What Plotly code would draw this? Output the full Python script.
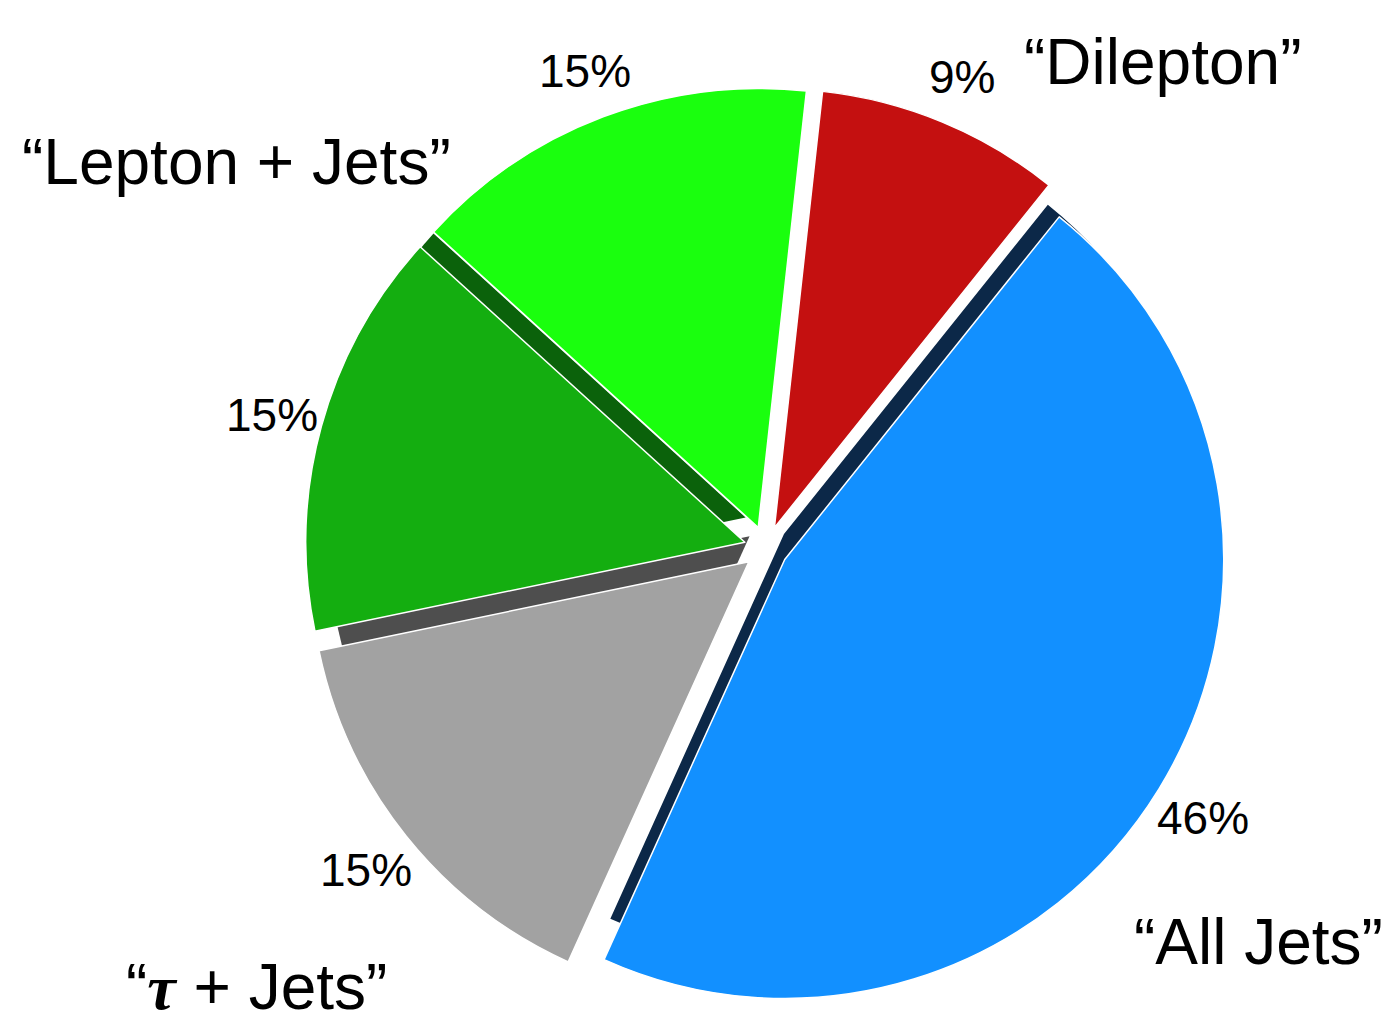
import math
import plotly.graph_objects as go

# Top-quark pair decay channels (clockwise from just right of 12 o'clock)
channels = ["Dilepton", "All Jets", "τ + Jets", "Lepton + Jets (μ)", "Lepton + Jets (e)"]
shares = [9, 46, 15, 15, 15]
pct_labels = [f"{v}%" for v in shares]

face_colors = ["#c41010", "#1290ff", "#a2a2a2", "#14ae10", "#1aff0e"]
# darker tones used for the side walls of the extruded slices
wall_colors = ["rgba(0,0,0,0)", "#0c2848", "#4e4e4e", "#0b620b", "rgba(0,0,0,0)"]

W, H = 1385, 1024
cx, cy = 766, 548          # pie centre in pixels
r = 439                    # pie radius in pixels
pull = 0.05
start_angle = 6.3          # degrees clockwise from 12 o'clock
label_radius = 512         # distance of the percentage labels from the centre

text_font = "Liberation Sans, Arial, Helvetica"


def domain_for(center_x, center_y, radius):
    half = radius * (1 + pull)
    return dict(
        x=[(center_x - half) / W, (center_x + half) / W],
        y=[(H - center_y - half) / H, (H - center_y + half) / H],
    )


fig = go.Figure()

# side walls: a darker copy of the pie, lifted and slightly smaller, drawn underneath
wall_shift, wall_shrink = 25, 17
fig.add_trace(go.Pie(
    labels=channels, values=shares, sort=False, direction="clockwise",
    rotation=start_angle, pull=[pull] * len(shares),
    marker=dict(colors=wall_colors, line=dict(width=0)),
    textinfo="none", hoverinfo="skip", showlegend=False,
    domain=domain_for(cx, cy - wall_shift, r - wall_shrink),
))

# slice faces
fig.add_trace(go.Pie(
    labels=channels, values=shares, sort=False, direction="clockwise",
    rotation=start_angle, pull=[pull] * len(shares),
    marker=dict(colors=face_colors, line=dict(color="white", width=1.5)),
    textinfo="none", hoverinfo="label+percent", showlegend=False,
    domain=domain_for(cx, cy, r),
))

# percentage labels placed on each slice's mid-angle, outside the rim
total = sum(shares)
acc = 0.0
for v, lab in zip(shares, pct_labels):
    mid = math.radians(start_angle + 360.0 * (acc + v / 2) / total)
    acc += v
    lx = cx + label_radius * math.sin(mid)
    ly = cy + 2 - label_radius * math.cos(mid)
    fig.add_annotation(
        text=lab, x=lx / W, y=1 - ly / H, xref="paper", yref="paper",
        xanchor="center", yanchor="middle", showarrow=False,
        font=dict(family=text_font, size=46, color="black"),
    )

name_font = dict(family=text_font, size=64, color="black")
# (text, x centre px, y px, vertical anchor)
names = [
    ("“Dilepton”", 1162, 62, "middle"),
    ("“All Jets”", 1258, 942, "middle"),
    ("“<span style='font-family:Liberation Serif'><b><i>τ</i></b></span> + Jets”", 256, 1024, "bottom"),
    ("“Lepton + Jets”", 237, 162, "middle"),
]
for txt, x, y, anchor in names:
    fig.add_annotation(
        text=txt, x=x / W, y=1 - y / H, xref="paper", yref="paper",
        xanchor="center", yanchor=anchor, showarrow=False, font=name_font,
        borderpad=0,
    )

fig.update_layout(
    width=W, height=H,
    margin=dict(l=0, r=0, t=0, b=0, autoexpand=False),
    paper_bgcolor="white", plot_bgcolor="white",
    showlegend=False,
)

fig.write_html("out.html")
